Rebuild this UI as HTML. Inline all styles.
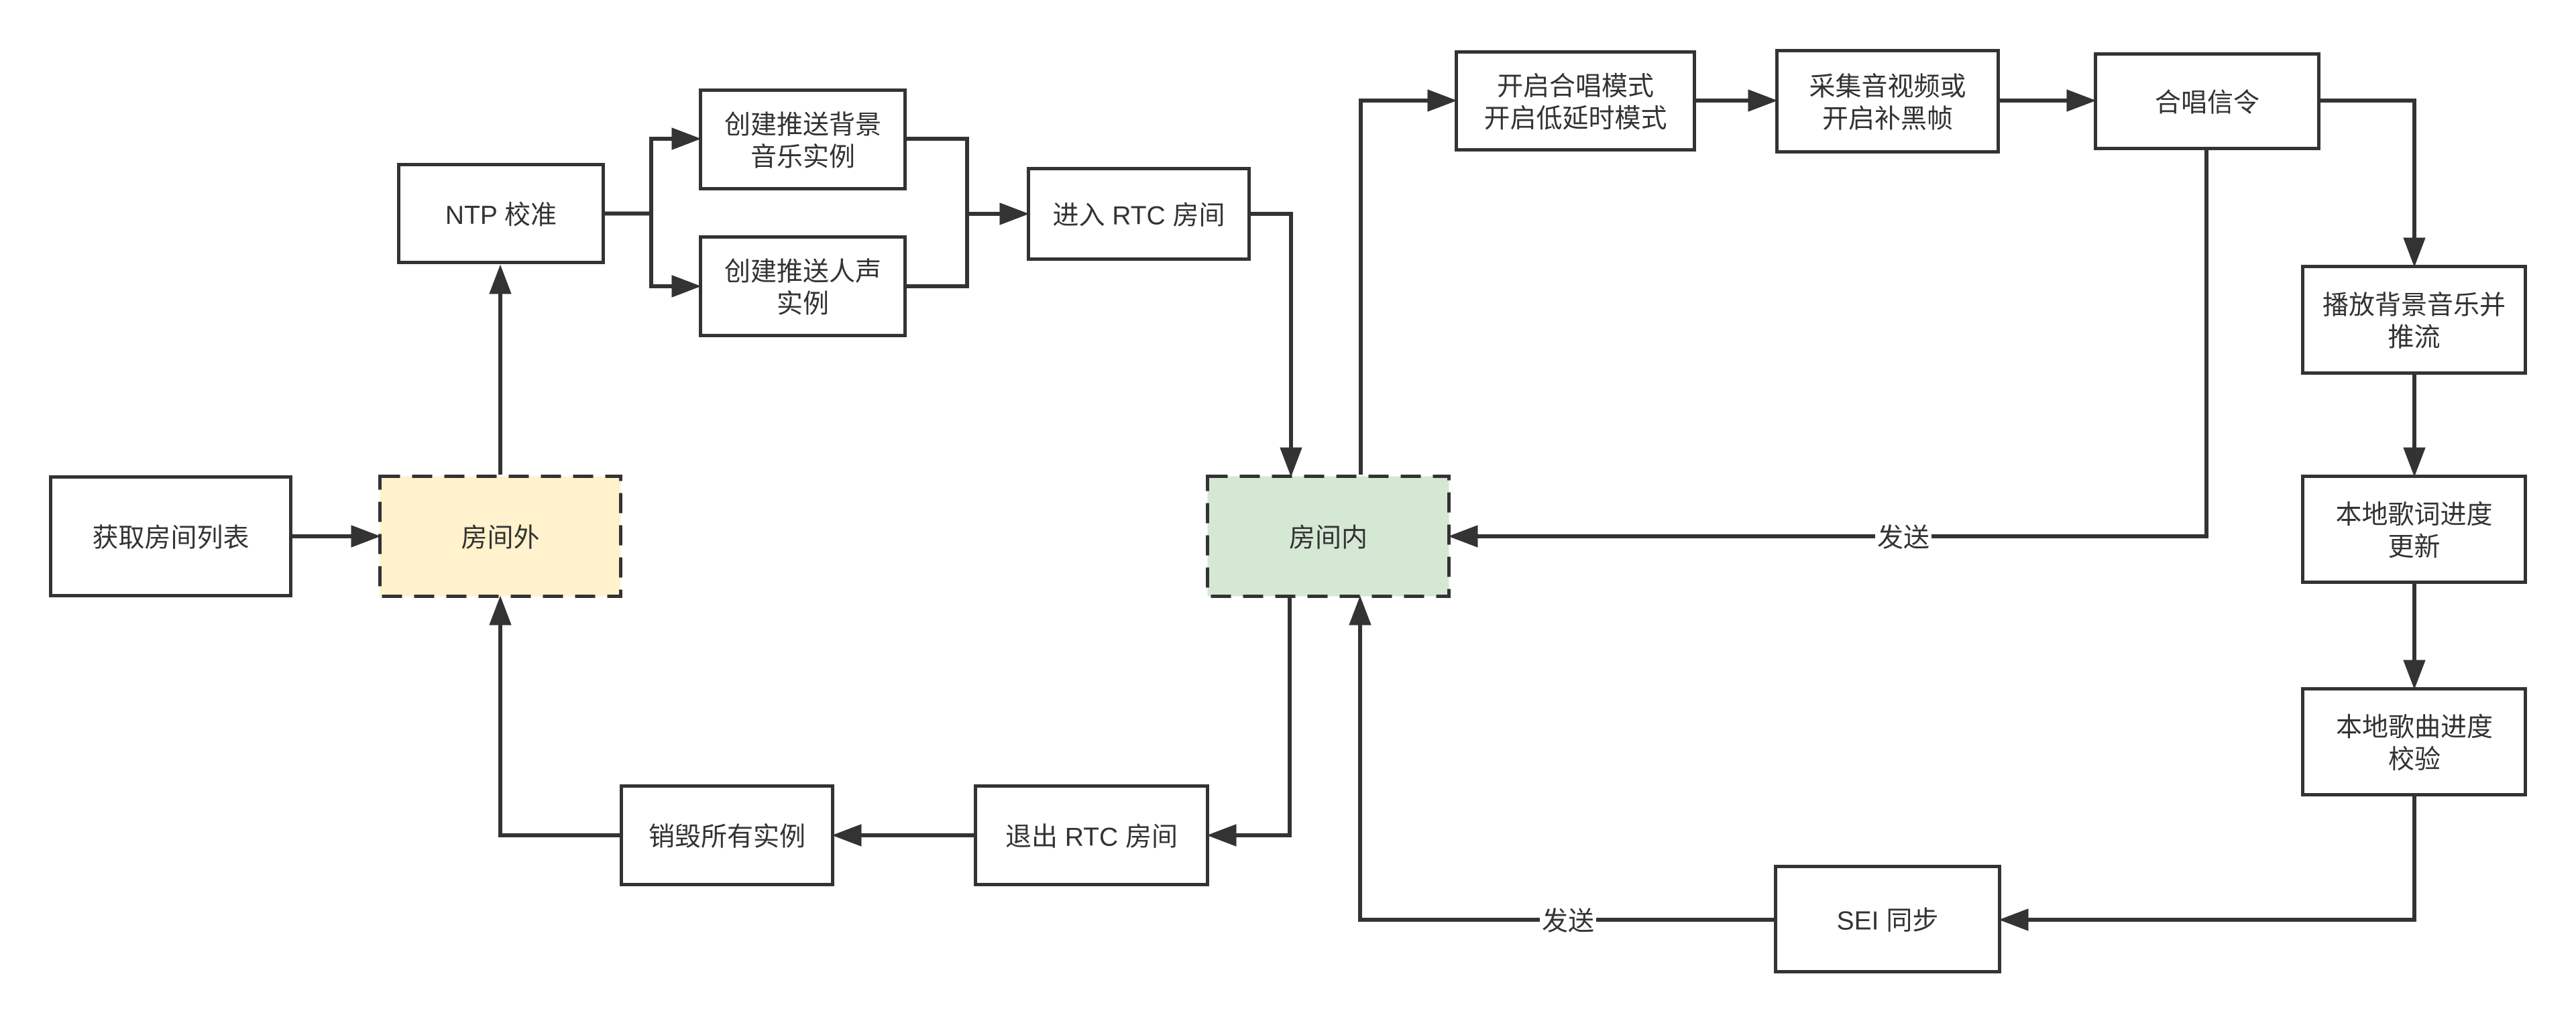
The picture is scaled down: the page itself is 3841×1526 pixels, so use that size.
<!DOCTYPE html>
<html><head><meta charset="utf-8"><style>
html,body{margin:0;padding:0;background:#fff;}
svg{display:block;}
text{font-family:"Liberation Sans","Noto Sans CJK SC",sans-serif;font-size:39px;fill:#333;}
</style></head><body>
<svg width="3841" height="1526" viewBox="0 0 3841 1526" xmlns="http://www.w3.org/2000/svg">
<rect width="3841" height="1526" fill="#fff"/>

<!-- connectors -->
<g fill="none" stroke="#333" stroke-width="6" stroke-linejoin="miter" stroke-linecap="butt">
  <path d="M436 800 H528"/>
  <path d="M746 708 V436"/>
  <path d="M902 318.5 H971"/>
  <path d="M1006 207 H971 V427 H1006"/>
  <path d="M1352 207 H1442 V427 H1352"/>
  <path d="M1442 319 H1495"/>
  <path d="M1865 319 H1925 V672"/>
  <path d="M2029 708 V150 H2133"/>
  <path d="M2529 150 H2611"/>
  <path d="M2982 150 H3086"/>
  <path d="M3460 150 H3600 V359"/>
  <path d="M3600 559 V672"/>
  <path d="M3600 871 V989"/>
  <path d="M3600 1188 V1372 H3020"/>
  <path d="M2645 1372 H2028 V928"/>
  <path d="M3290 224 V800 H2199"/>
  <path d="M1923 892 V1246 H1839"/>
  <path d="M1452 1246 H1280"/>
  <path d="M924 1246 H746 V928"/>
</g>

<!-- boxes -->
<g stroke="#333" stroke-width="5" fill="#fff">
  <rect x="75.5" y="711.5" width="358" height="177"/>
  <rect x="594.5" y="245.5" width="305" height="146"/>
  <rect x="1044.5" y="134.5" width="305" height="147"/>
  <rect x="1044.5" y="353.5" width="305" height="147"/>
  <rect x="1533.5" y="251.5" width="329" height="135"/>
  <rect x="2171.5" y="77.5" width="355" height="146"/>
  <rect x="2649.5" y="75.5" width="330" height="151"/>
  <rect x="3124.5" y="80.5" width="333" height="141"/>
  <rect x="3433.5" y="397.5" width="332" height="159"/>
  <rect x="3433.5" y="710.5" width="332" height="158"/>
  <rect x="3433.5" y="1027.5" width="332" height="158"/>
  <rect x="2647.5" y="1292.5" width="334" height="157"/>
  <rect x="926.5" y="1172.5" width="315" height="147"/>
  <rect x="1454.5" y="1172.5" width="346" height="147"/>
  <rect x="566.5" y="710.5" width="359" height="179" fill="#fff2cc" stroke-dasharray="30 18"/>
  <rect x="1800.5" y="710.5" width="360" height="179" fill="#d5e8d4" stroke-dasharray="30 18"/>
</g>

<!-- arrowheads -->
<g fill="#333" stroke="#333" stroke-width="1">
  <polygon points="566,800 524,784 524,816"/>
  <polygon points="1044,207 1002,191 1002,223"/>
  <polygon points="1044,427 1002,411 1002,443"/>
  <polygon points="1533,319 1491,303 1491,335"/>
  <polygon points="2171,150 2129,134 2129,166"/>
  <polygon points="2649,150 2607,134 2607,166"/>
  <polygon points="3124,150 3082,134 3082,166"/>
  <polygon points="2982,1372 3024,1356 3024,1388"/>
  <polygon points="2161,800 2203,784 2203,816"/>
  <polygon points="1801,1246 1843,1230 1843,1262"/>
  <polygon points="1242,1246 1284,1230 1284,1262"/>
  <polygon points="746,396 730,438 762,438"/>
  <polygon points="2028,890 2012,932 2044,932"/>
  <polygon points="746,890 730,932 762,932"/>
  <polygon points="1925,710 1909,668 1941,668"/>
  <polygon points="3600,397 3584,355 3616,355"/>
  <polygon points="3600,710 3584,668 3616,668"/>
  <polygon points="3600,1027 3584,985 3616,985"/>
</g>

<!-- edge label backgrounds -->
<rect x="2796" y="778" width="84" height="46" fill="#fff"/>
<rect x="2296" y="1350" width="84" height="46" fill="#fff"/>

<!-- texts -->
<g text-anchor="middle" dominant-baseline="central">
  <text x="254.5" y="803">获取房间列表</text>
  <text x="746" y="803">房间外</text>
  <text x="747" y="321.5">NTP 校准</text>
  <text x="1197" y="187">创建推送背景</text>
  <text x="1197" y="235">音乐实例</text>
  <text x="1197" y="406">创建推送人声</text>
  <text x="1197" y="454">实例</text>
  <text x="1698" y="322">进入 RTC 房间</text>
  <text x="1980.5" y="803">房间内</text>
  <text x="2349" y="129.5">开启合唱模式</text>
  <text x="2349" y="177.5">开启低延时模式</text>
  <text x="2814.5" y="130">采集音视频或</text>
  <text x="2814.5" y="178">开启补黑帧</text>
  <text x="3291" y="154">合唱信令</text>
  <text x="3599.5" y="456">播放背景音乐并</text>
  <text x="3599.5" y="504">推流</text>
  <text x="3599.5" y="768.5">本地歌词进度</text>
  <text x="3599.5" y="816.5">更新</text>
  <text x="3600" y="1085.5">本地歌曲进度</text>
  <text x="3600" y="1133.5">校验</text>
  <text x="2814.5" y="1374">SEI 同步</text>
  <text x="1084" y="1249">销毁所有实例</text>
  <text x="1627.5" y="1249">退出 RTC 房间</text>
  <text x="2838" y="803">发送</text>
  <text x="2338" y="1375">发送</text>
</g>
</svg>
</body></html>
